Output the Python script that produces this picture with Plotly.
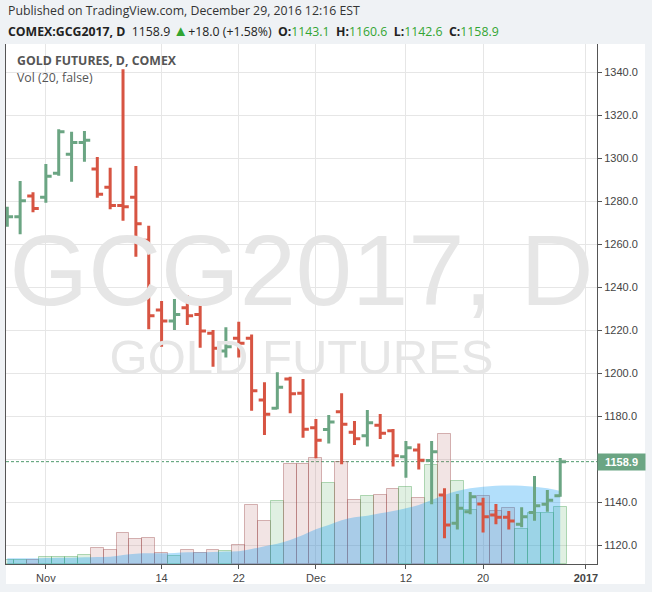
import plotly.graph_objects as go

# ---------------- data ----------------
dates = ["2016-10-27", "2016-10-28", "2016-10-31",
         "2016-11-01", "2016-11-02", "2016-11-03", "2016-11-04", "2016-11-07", "2016-11-08",
         "2016-11-09", "2016-11-10", "2016-11-11", "2016-11-14", "2016-11-15", "2016-11-16",
         "2016-11-17", "2016-11-18", "2016-11-21", "2016-11-22", "2016-11-23", "2016-11-25",
         "2016-11-28", "2016-11-29", "2016-11-30",
         "2016-12-01", "2016-12-02", "2016-12-05", "2016-12-06", "2016-12-07", "2016-12-08",
         "2016-12-09", "2016-12-12", "2016-12-13", "2016-12-14", "2016-12-15", "2016-12-16",
         "2016-12-19", "2016-12-20", "2016-12-21", "2016-12-22", "2016-12-23", "2016-12-27",
         "2016-12-28", "2016-12-29"]

opens = [1271.0, 1272.8, 1282.5, 1281.9, 1293.0, 1301.9, 1307.4, 1295.0, 1286.5, 1278.0,
         1281.9, 1261.9, 1229.4, 1224.3, 1230.5, 1227.4, 1218.6, 1210.4, 1216.3, 1216.3,
         1187.6, 1183.7, 1197.3, 1190.7, 1174.7, 1173.8, 1182.1, 1172.6, 1171.0, 1175.8,
         1173.3, 1161.2, 1164.3, 1159.4, 1143.4, 1130.2, 1135.6, 1139.2, 1134.1, 1133.0,
         1129.8, 1135.2, 1139.1, 1143.1]
highs = [1277.5, 1289.4, 1284.2, 1297.3, 1313.5, 1312.4, 1312.7, 1300.6, 1295.6, 1341.4,
         1296.4, 1268.6, 1233.6, 1234.6, 1236.4, 1234.6, 1220.1, 1221.4, 1224.0, 1218.1,
         1195.8, 1200.5, 1198.4, 1197.3, 1178.7, 1180.6, 1190.7, 1177.8, 1182.9, 1181.1,
         1174.1, 1168.5, 1167.4, 1168.5, 1146.5, 1143.9, 1144.8, 1142.1, 1139.2, 1136.0,
         1137.7, 1152.2, 1145.7, 1160.6]
lows = [1268.2, 1264.7, 1274.9, 1279.3, 1291.9, 1289.1, 1298.4, 1281.7, 1276.3, 1271.0,
        1254.2, 1220.5, 1212.4, 1220.1, 1222.5, 1211.9, 1203.1, 1207.3, 1207.3, 1182.6,
        1171.3, 1183.3, 1181.4, 1170.0, 1160.5, 1167.3, 1157.7, 1166.7, 1165.9, 1169.4,
        1156.6, 1151.4, 1155.3, 1139.1, 1123.3, 1127.4, 1134.4, 1125.9, 1129.8, 1127.4,
        1128.4, 1131.4, 1135.6, 1142.6]
closes = [1272.8, 1280.3, 1276.7, 1291.6, 1312.4, 1307.4, 1308.4, 1283.3, 1278.0, 1277.5,
          1269.6, 1226.8, 1224.3, 1227.4, 1226.8, 1219.7, 1211.6, 1212.4, 1214.0, 1191.9,
          1180.9, 1193.5, 1190.5, 1174.0, 1168.9, 1177.4, 1176.3, 1169.6, 1177.0, 1172.1,
          1161.7, 1165.4, 1159.5, 1163.5, 1129.4, 1137.2, 1142.6, 1133.3, 1133.0, 1131.3,
          1133.3, 1138.4, 1140.9, 1158.9]

# volume (thousand contracts) and its 20-day moving average
volume_k = [10, 10, 10, 17, 17, 17, 22, 40, 35, 77, 62, 65, 27, 20, 34, 27, 34, 32, 47, 147,
            107, 157, 249, 249, 265, 202, 254, 159, 170, 172, 187, 192, 165, 248, 325, 207,
            135, 169, 132, 139, 88, 127, 127, 142]
vol_ma_k = [14.3, 14.3, 14.3, 15.0, 15.8, 15.8, 16.8, 17.5, 18.3, 22.5, 25.8, 26.8, 26.8, 27.5,
            29.3, 29.3, 30.0, 31.0, 32.0, 37.5, 44.3, 50.8, 60.0, 72.5, 86.8, 97.5, 109.3,
            116.8, 120.8, 126.8, 132.5, 139.3, 147.5, 160.0, 172.5, 182.5, 189.3, 193.3,
            195.8, 196.3, 195.8, 193.3, 189.3, 182.5]

tick_dates = ["2016-11-01", "2016-11-14", "2016-11-22", "2016-12-01", "2016-12-12", "2016-12-20"]
tick_labels = ["Nov", "14", "22", "Dec", "12", "20"]
year_label = "2017"
year_offset = 2  # first session of 2017 is two sessions after the last bar
price_ticks = [1120, 1140, 1160, 1180, 1200, 1220, 1240, 1260, 1280, 1300, 1320, 1340]

symbol = "COMEX:GCG2017, D"
title_text = "GOLD FUTURES, D, COMEX"
study_text = "Vol (20, false)"
published = "Published on TradingView.com, December 29, 2016 12:16 EST"

# ---------------- styles ----------------
UP = "#6ba583"
DOWN = "#d75442"
GREEN_TXT = "#33a532"
GRID = "#e6e6e6"
AXIS = "#555555"
FONT_AX = "Liberation Sans"
FONT_UI = "Open Sans"

idx = list(range(len(dates)))
tickvals = [dates.index(d) for d in tick_dates] + [len(dates) - 1 + year_offset]
ticktext = tick_labels + ["<b>%s</b>" % year_label]

last_c = closes[-1]
prev_c = closes[-2]
chg = last_c - prev_c
pct = chg / prev_c * 100

# price tick labels (the one hidden behind the last-price label is blanked)
price_text = ["" if abs(t - last_c) < 5 else "%.1f" % t for t in price_ticks]

is_up = [c >= o for o, c in zip(opens, closes)]
vol_fill = ["rgba(100,180,110,0.2)" if u else "rgba(190,120,120,0.2)" for u in is_up]
vol_line = ["rgba(70,160,80,0.4)" if u else "rgba(160,80,80,0.42)" for u in is_up]

fig = go.Figure()

# volume histogram (base axis, drawn below the price layer)
fig.add_trace(go.Bar(x=idx, y=volume_k, width=1,
                     marker=dict(color=vol_fill, line=dict(color=vol_line, width=1)),
                     xaxis="x", yaxis="y", hoverinfo="skip"))
# volume moving average as an area
fig.add_trace(go.Scatter(x=idx, y=vol_ma_k, mode="lines",
                         line=dict(color="rgba(0,150,243,0.3)", width=0, shape="spline"),
                         fill="tozeroy", fillcolor="rgba(0,150,243,0.3)",
                         xaxis="x", yaxis="y", hoverinfo="skip"))

# watermark (as text marks so it sits under the price bars)
x_mid = (-0.1 + 45.86) / 2
fig.add_trace(go.Scatter(x=[x_mid], y=[1243.5], mode="text", text=["GCG2017, D"],
                         textposition="middle center",
                         textfont=dict(family=FONT_AX, size=101, color="#e6e6e6"),
                         xaxis="x", yaxis="y2", hoverinfo="skip"))
fig.add_trace(go.Scatter(x=[x_mid], y=[1205.5], mode="text", text=["GOLD FUTURES"],
                         textposition="middle center",
                         textfont=dict(family=FONT_AX, size=49, color="#e6e6e6"),
                         xaxis="x", yaxis="y2", hoverinfo="skip"))

# price bars
fig.add_trace(go.Ohlc(x=idx, open=opens, high=highs, low=lows, close=closes,
                      increasing=dict(line=dict(color=UP, width=3)),
                      decreasing=dict(line=dict(color=DOWN, width=3)),
                      tickwidth=0.45, xaxis="x", yaxis="y2", hoverinfo="skip"))

header2 = ("<b>%s</b>  %.1f <span style='color:%s;font-size:15px'>▲</span>%+.1f (%+.2f%%)  "
           "<b>O:</b><span style='color:%s'>%.1f</span>  "
           "<b>H:</b><span style='color:%s'>%.1f</span>  "
           "<b>L:</b><span style='color:%s'>%.1f</span>  "
           "<b>C:</b><span style='color:%s'>%.1f</span>") % (
    symbol, last_c, GREEN_TXT, chg, pct,
    GREEN_TXT, opens[-1], GREEN_TXT, highs[-1], GREEN_TXT, lows[-1], GREEN_TXT, closes[-1])

fig.update_layout(
    width=652, height=592,
    margin=dict(l=6, r=55, t=44, b=28, pad=0),
    paper_bgcolor="#eff2f5",
    plot_bgcolor="white",
    showlegend=False,
    bargap=0,
    xaxis=dict(range=[-0.1, 45.86], tickmode="array", tickvals=tickvals, ticktext=ticktext,
               showgrid=True, gridcolor=GRID, gridwidth=1,
               ticks="outside", ticklen=4, tickcolor=AXIS,
               showline=True, linecolor=AXIS, linewidth=1,
               tickfont=dict(family=FONT_AX, size=11, color="#444444"),
               rangeslider=dict(visible=False), zeroline=False, fixedrange=True),
    yaxis=dict(range=[0, 1300], showgrid=False, showticklabels=False,
               showline=True, linecolor=AXIS, linewidth=1, zeroline=False,
               ticks="", fixedrange=True),
    yaxis2=dict(overlaying="y", side="right", range=[1111.3, 1353.16],
                tickmode="array", tickvals=price_ticks, ticktext=price_text,
                showgrid=True, gridcolor=GRID, gridwidth=1,
                ticks="outside", ticklen=4, tickcolor=AXIS,
                showline=True, linecolor=AXIS, linewidth=1, zeroline=False,
                tickfont=dict(family=FONT_AX, size=11, color="#444444"),
                fixedrange=True),
    shapes=[
        dict(type="rect", xref="paper", yref="paper", x0=0, x1=1.0812, y0=-0.0385, y1=1,
             fillcolor="white", line=dict(width=0), layer="below"),
        dict(type="line", xref="paper", yref="y2", x0=0, x1=1, y0=last_c, y1=last_c,
             line=dict(color="#4f9a6c", width=1, dash="3px,2px"), layer="below"),
    ],
    annotations=[
        dict(xref="paper", yref="paper", x=0.0, y=1.0635, xanchor="left", yanchor="middle",
             text=published, showarrow=False,
             font=dict(family=FONT_UI, size=12.3, color="#333333")),
        dict(xref="paper", yref="paper", x=0.0, y=1.026, xanchor="left", yanchor="middle",
             text=header2, showarrow=False,
             font=dict(family=FONT_UI, size=12.3, color="#222222")),
        dict(xref="paper", yref="paper", x=0.015, y=0.9692, xanchor="left", yanchor="middle",
             text="<b>%s</b>" % title_text, showarrow=False,
             font=dict(family=FONT_UI, size=12.3, color="#555555")),
        dict(xref="paper", yref="paper", x=0.015, y=0.9355, xanchor="left", yanchor="middle",
             text=study_text, showarrow=False,
             font=dict(family=FONT_UI, size=12.3, color="#555555")),
        dict(xref="paper", yref="y2", x=1.0, y=last_c, xanchor="left", yanchor="middle",
             text="<b>%.1f</b>" % last_c, showarrow=False, bgcolor=UP,
             width=45, height=14, borderpad=1,
             font=dict(family=FONT_AX, size=11, color="white")),
    ],
)

fig.write_html("out.html", config={"displayModeBar": False},
               post_script="document.body.style.margin='0';document.body.style.overflow='hidden';")
